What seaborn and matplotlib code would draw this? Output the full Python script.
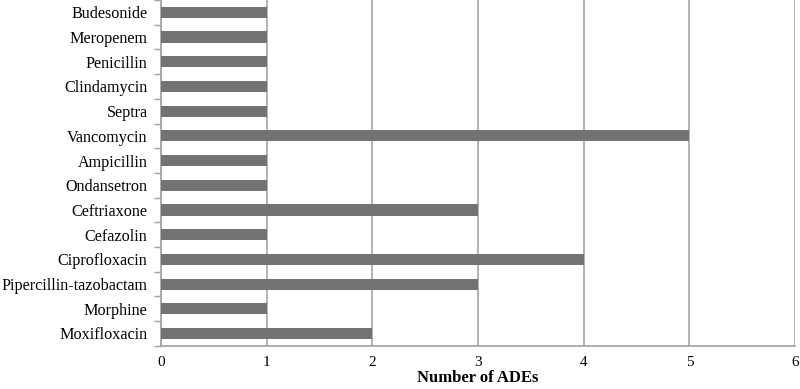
import matplotlib
matplotlib.use("Agg")
import matplotlib.pyplot as plt
import seaborn as sns
import pandas as pd
import numpy as np

drugs = ["Budesonide", "Meropenem", "Penicillin", "Clindamycin", "Septra", "Vancomycin",
         "Ampicillin", "Ondansetron", "Ceftriaxone", "Cefazolin", "Ciprofloxacin",
         "Pipercillin-tazobactam", "Morphine", "Moxifloxacin"]
ades = [1, 1, 1, 1, 1, 5, 1, 1, 3, 1, 4, 3, 1, 2]
xticks = [0, 1, 2, 3, 4, 5, 6]

sns.set_theme(style="white")
plt.rcParams['font.family'] = ['Liberation Serif', 'DejaVu Serif']

df = pd.DataFrame({"drug": drugs, "ades": ades})

fig = plt.figure(figsize=(8, 3.89), dpi=100)
ax = fig.add_axes([0.201, 0.111, 0.793, 0.889])
sns.barplot(data=df, x="ades", y="drug", orient="h", color="#737373", width=0.45,
            saturation=1, ax=ax, zorder=3)
for p in ax.patches:
    p.set_edgecolor("none")

ax.set_xlim(0, 6)
ax.set_ylim(len(drugs) - 0.5, -0.5)
ax.set_xticks(xticks)
ax.set_xticklabels([str(t) for t in xticks], fontsize=11)
ax.set_yticks(range(len(drugs)))
ax.set_yticklabels(drugs, fontsize=11.6)
ax.set_yticks(np.arange(-0.5, len(drugs), 1), minor=True)
ax.tick_params(axis="y", which="major", length=0, pad=9.5, colors="black")
ax.tick_params(axis="y", which="minor", length=5, width=1, color="#a0a0a0", direction="out", left=True)
ax.tick_params(axis="x", which="major", length=0, pad=7, colors="black")

ax.grid(axis="x", color="#a6a6a6", linewidth=1.2, zorder=0)
ax.set_axisbelow(True)
for s in ["top", "right"]:
    ax.spines[s].set_visible(False)
for s in ["left", "bottom"]:
    ax.spines[s].set_color("#a0a0a0")
    ax.spines[s].set_linewidth(1.2)

ax.set_ylabel("")
ax.set_xlabel("Number of ADEs", fontsize=12, fontweight="bold", labelpad=1, color="black")

fig.savefig("out.png", dpi=100)
